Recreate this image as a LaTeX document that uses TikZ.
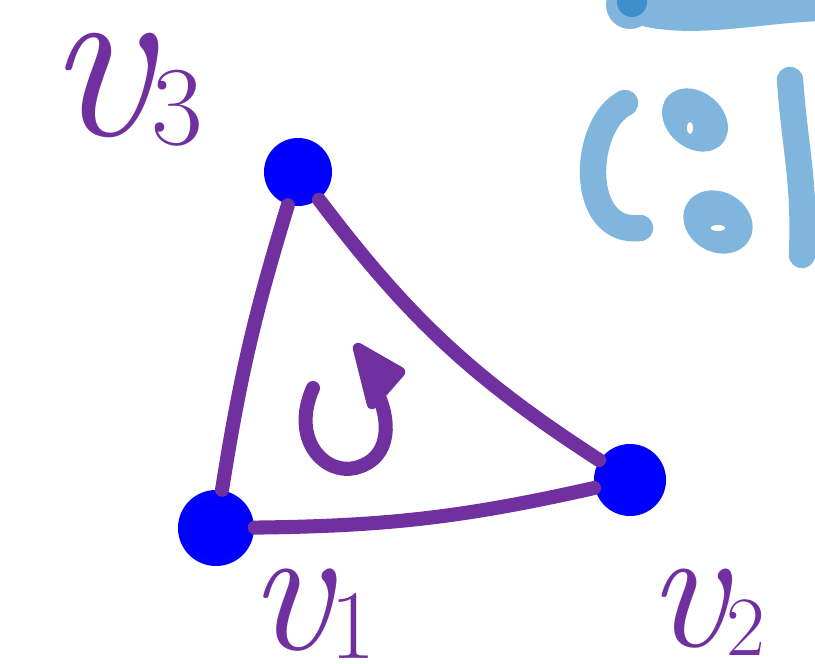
\documentclass[tikz,border=0pt]{standalone}
\usetikzlibrary{positioning}
\usepackage{xcolor}
\definecolor{inkpurple}{HTML}{7030A0}
\definecolor{inkblue}{HTML}{0000FF}
\definecolor{paleblue}{HTML}{80B6DE}
\definecolor{midblue}{HTML}{3F8FCC}
\newcommand{\lblsize}[1]{\fontsize{#1}{#1}\selectfont}
\newcommand{\vlabel}[3]{{\lblsize{#1}\itshape v}\raisebox{-0.25em}{\lblsize{#2}#3}}
\begin{document}
\begin{tikzpicture}[
  x=0.01cm, y=-0.01cm,
  vertex/.style={circle, fill=inkblue, inner sep=0pt, minimum size=0.68cm},
  edge/.style={draw=inkpurple, line width=4pt, line cap=round, line join=round},
  lbl/.style={text=inkpurple, inner sep=1pt},
  scribble/.style={draw=paleblue, line width=7.5pt, line cap=round, line join=round}
]
  \useasboundingbox (0,0) rectangle (815,664);

  % Vertices
  \node[vertex] (v3) at (298,172) {};
  \node[vertex, minimum size=0.76cm] (v1) at (216,528) {};
  \node[vertex, minimum size=0.72cm] (v2) at (630,480) {};

  % Edges
  \draw[edge] (v1) to[bend left=4] (v3);
  \draw[edge] (v3) to[bend right=10] (v2);
  \draw[edge] (v1) to[bend right=6] (v2);

  % Orientation arrow
  \draw[edge] (313,388) .. controls (290,440) and (325,475) .. (355,468)
              .. controls (395,458) and (388,415) .. (378,395);
  \fill[inkpurple, draw=inkpurple, line width=3pt, line join=round]
    (358,348) -- (400,372) -- (372,404) -- cycle;

  % Labels
  \node[lbl] (lv3) at (125,90) {\vlabel{66}{32}{3}};
  \node[lbl] (lv1) at (312,614) {\vlabel{52}{28}{1}};
  \node[lbl] (lv2) at (706,612) {\vlabel{50}{24}{2}};

  % Cut-off scribbles, top right
  \draw[scribble, line width=11pt] (650,8) .. controls (700,18) and (760,4) .. (815,2);
  \fill[paleblue] (630,5) circle (24);
  \fill[midblue] (632,2) circle (15);
  \draw[scribble] (625,103) .. controls (582,125) and (578,235) .. (640,228);
  \fill[paleblue, rotate around={-40:(695,120)}] (695,120) ellipse (36 and 28);
  \fill[paleblue, rotate around={-30:(718,222)}] (718,222) ellipse (36 and 30);
  \fill[white] (690,128) ellipse (3 and 6);
  \fill[white] (718,228) ellipse (7 and 3);
  \draw[scribble] (790,80) .. controls (795,150) and (805,180) .. (802,255);
\end{tikzpicture}
\end{document}
